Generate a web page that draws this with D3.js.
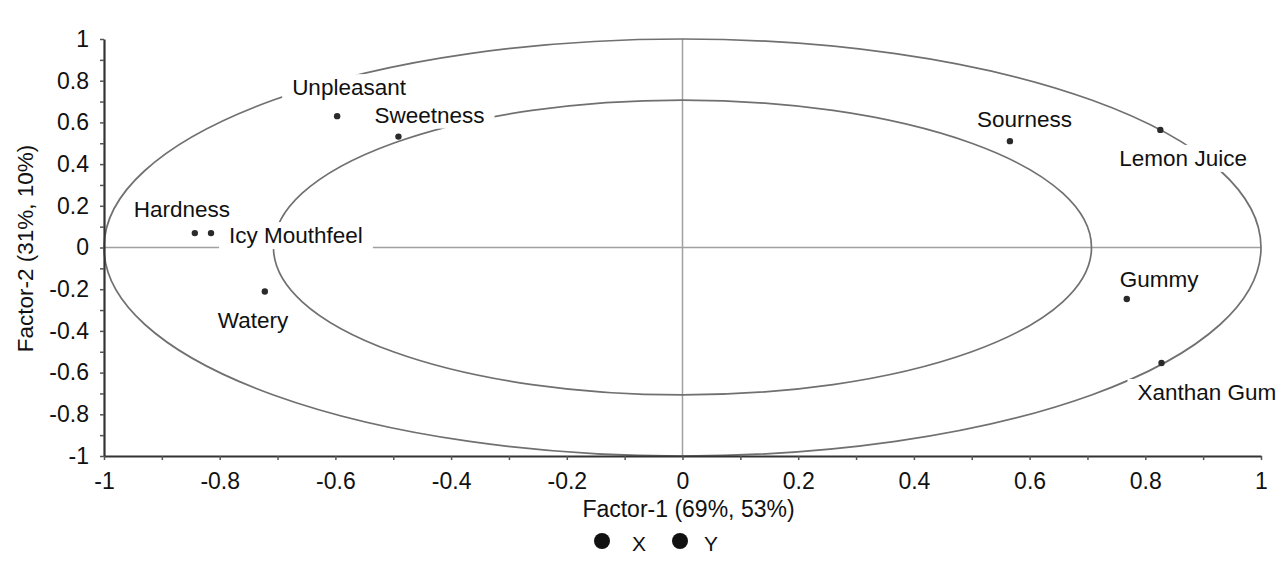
<!DOCTYPE html>
<html>
<head>
<meta charset="utf-8">
<script src="https://cdn.jsdelivr.net/npm/d3@7"></script>
<style>
  body { margin: 0; background: #fff; }
  svg { display: block; font-family: "Liberation Sans", Arial, sans-serif; }
</style>
</head>
<body>
<div class="chart"></div>
<script>
// variables on the correlation plot
var names = ['Unpleasant', 'Sweetness', 'Sourness', 'Lemon Juice', 'Hardness',
             'Icy Mouthfeel', 'Watery', 'Gummy', 'Xanthan Gum'];
var factor1 = [-0.597, -0.491, 0.566, 0.826, -0.843, -0.815, -0.722, 0.768, 0.828];
var factor2 = [0.630, 0.532, 0.510, 0.564, 0.069, 0.069, -0.211, -0.247, -0.554];

// correlation circles (r = 1 and r = 0.5 explained variance)
var circleRadii = [1, 0.707];

var majorTicks = [-1, -0.8, -0.6, -0.4, -0.2, 0, 0.2, 0.4, 0.6, 0.8, 1];
var minorTicks = [-0.9, -0.7, -0.5, -0.3, -0.1, 0.1, 0.3, 0.5, 0.7, 0.9];

var legendItems = ['X', 'Y'];

// label placement relative to the point (text start, baseline)
var labelOffsets = {
  'Unpleasant':    [-45, -21],
  'Sweetness':     [-24, -14],
  'Sourness':      [-33, -14],
  'Lemon Juice':   [-41, 36],
  'Hardness':      [-61, -16],
  'Icy Mouthfeel': [18, 10],
  'Watery':        [-47, 37],
  'Gummy':         [-7, -12],
  'Xanthan Gum':   [-24, 37]
};

var width = 1281,
    height = 570;

var svg = d3.select('.chart').append('svg')
  .attr('width', width)
  .attr('height', height);

var x = d3.scaleLinear().domain([-1, 1]).range([104, 1261]);
var y = d3.scaleLinear().domain([-1, 1]).range([456, 39]);

// zero lines
svg.append('line')
  .attr('x1', x(-1)).attr('x2', x(1))
  .attr('y1', y(0)).attr('y2', y(0))
  .attr('stroke', '#a0a0a0').attr('stroke-width', 1.5);
svg.append('line')
  .attr('x1', x(0)).attr('x2', x(0))
  .attr('y1', y(-1)).attr('y2', y(1))
  .attr('stroke', '#a0a0a0').attr('stroke-width', 1.5);

// circles
svg.append('g').selectAll('ellipse')
  .data(circleRadii)
  .enter().append('ellipse')
    .attr('cx', x(0))
    .attr('cy', y(0))
    .attr('rx', function(r) { return x(r) - x(0); })
    .attr('ry', function(r) { return y(0) - y(r); })
    .attr('fill', 'none')
    .attr('stroke', '#707070')
    .attr('stroke-width', 1.7);

// axes
var allTicks = majorTicks.concat(minorTicks);
function tickLabel(d) {
  return majorTicks.indexOf(d) >= 0 ? String(d) : '';
}

var yAxis = svg.append('g')
  .attr('transform', 'translate(' + x(-1) + ',0)')
  .call(d3.axisLeft(y).tickValues(allTicks).tickFormat(tickLabel)
    .tickSize(4).tickSizeOuter(0).tickPadding(11));

var xAxis = svg.append('g')
  .attr('transform', 'translate(0,' + y(-1) + ')')
  .call(d3.axisBottom(x).tickValues(allTicks).tickFormat(tickLabel)
    .tickSize(4).tickSizeOuter(0).tickPadding(13));

[xAxis, yAxis].forEach(function(g) {
  g.select('.domain').attr('stroke', '#333').attr('stroke-width', 2.2);
  g.selectAll('.tick line').attr('stroke', '#555').attr('stroke-width', 1.5);
  g.selectAll('.tick text')
    .attr('fill', '#111')
    .style('font-size', '23px')
    .style('font-family', '"Liberation Sans", Arial, sans-serif');
});

// axis titles
svg.append('text')
  .attr('x', x(0) + 6)
  .attr('y', 517)
  .attr('text-anchor', 'middle')
  .attr('fill', '#111')
  .style('font-size', '23px')
  .text('Factor-1 (69%, 53%)');

svg.append('text')
  .attr('transform', 'translate(33,' + (y(0) + 1) + ') rotate(-90)')
  .attr('text-anchor', 'middle')
  .attr('fill', '#111')
  .style('font-size', '22.5px')
  .text('Factor-2 (31%, 10%)');

// points
var points = names.map(function(n, i) {
  return { name: n, f1: factor1[i], f2: factor2[i] };
});

svg.append('g').selectAll('circle')
  .data(points)
  .enter().append('circle')
    .attr('cx', function(d) { return x(d.f1); })
    .attr('cy', function(d) { return y(d.f2); })
    .attr('r', 3.2)
    .attr('fill', '#2a2a2a');

// labels with white boxes
var labels = svg.append('g').selectAll('g')
  .data(points)
  .enter().append('g');

labels.append('text')
  .attr('x', function(d) { return x(d.f1) + labelOffsets[d.name][0]; })
  .attr('y', function(d) { return y(d.f2) + labelOffsets[d.name][1]; })
  .attr('fill', '#111')
  .style('font-size', '22.5px')
  .text(function(d) { return d.name; });

labels.each(function() {
  var g = d3.select(this),
      box = g.select('text').node().getBBox();
  g.insert('rect', 'text')
    .attr('x', box.x - 10)
    .attr('y', box.y - 1)
    .attr('width', box.width + 20)
    .attr('height', box.height + 2)
    .attr('fill', '#fff');
});

// legend
var legend = svg.append('g').selectAll('g')
  .data(legendItems)
  .enter().append('g')
    .attr('transform', function(d, i) { return 'translate(' + (602 + i * 78) + ',541)'; });

legend.append('circle')
  .attr('r', 8)
  .attr('fill', '#111');

legend.append('text')
  .attr('x', function(d, i) { return i === 0 ? 30 : 24; })
  .attr('y', 10)
  .attr('fill', '#111')
  .style('font-size', '21px')
  .text(function(d) { return d; });
</script>
</body>
</html>
